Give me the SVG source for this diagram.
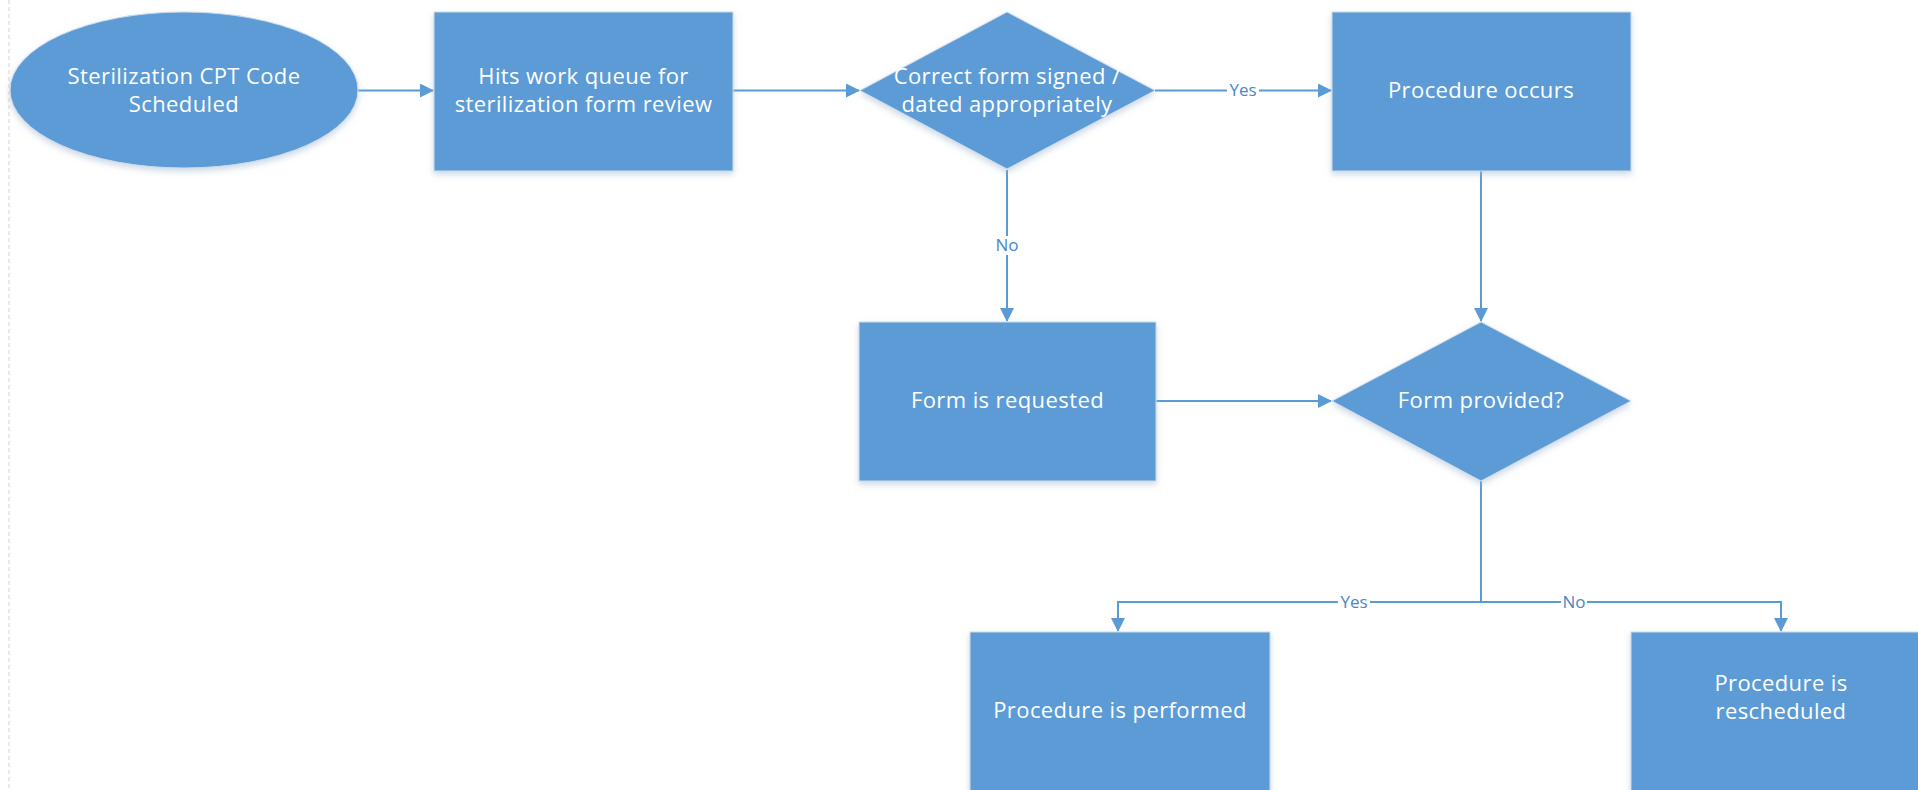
<svg xmlns="http://www.w3.org/2000/svg" width="1918" height="790" viewBox="0 0 1918 790">
<style>
.shape{fill:#5B9BD5;stroke:#d0dbe8;stroke-width:1;filter:url(#sh)}
.t{font-family:"Open Sans","Noto Sans",sans-serif;font-size:22px;letter-spacing:0.4px;fill:#ffffff;text-anchor:middle}
.c{fill:none;stroke:#5B9BD5;stroke-width:2;marker-end:url(#ah)}
.l{font-family:"Open Sans","Noto Sans",sans-serif;font-size:17px;fill:#4A86C5;text-anchor:middle}
.lb{fill:#ffffff}
</style>
<defs>
<marker id="ah" markerWidth="14" markerHeight="14" refX="13" refY="7" orient="auto" markerUnits="userSpaceOnUse">
<path d="M0,0 L14,7 L0,14 Z" fill="#5B9BD5"/>
</marker>
<filter id="sh" x="-10%" y="-10%" width="120%" height="125%">
<feDropShadow dx="0" dy="3" stdDeviation="3" flood-color="#9bb4cf" flood-opacity="0.5"/>
</filter>
</defs>
<rect width="1918" height="790" fill="#ffffff"/>
<line x1="9" y1="0" x2="9" y2="790" stroke="#d4d4d4" stroke-width="1" stroke-dasharray="4,3"/>
<g id="connectors">
<path class="c" d="M358,90.5 L433,90.5"/>
<path class="c" d="M733,90.5 L859,90.5"/>
<path class="c" d="M1155,90.5 L1331,90.5"/>
<path class="c" d="M1007,170 L1007,321"/>
<path class="c" d="M1481,171 L1481,321"/>
<path class="c" d="M1156,401 L1331,401"/>
<path class="c" d="M1481,481 L1481,602 L1118,602 L1118,631"/>
<path class="c" d="M1481,602 L1781,602 L1781,631"/>
<rect class="lb" x="1227" y="82" width="32" height="17"/>
<text class="l" x="1243" y="96">Yes</text>
<rect class="lb" x="994" y="236" width="26" height="19"/>
<text class="l" x="1007" y="251">No</text>
<rect class="lb" x="1338" y="594" width="32" height="17"/>
<text class="l" x="1354" y="608">Yes</text>
<rect class="lb" x="1561" y="594" width="26" height="17"/>
<text class="l" x="1574" y="608">No</text>
</g>
<g id="n1">
<ellipse class="shape" cx="184" cy="90" rx="174" ry="78"/>
<text class="t" x="184" y="84">Sterilization CPT Code</text>
<text class="t" x="184" y="112">Scheduled</text>
</g>
<g id="n2">
<rect class="shape" x="434" y="12" width="299" height="159"/>
<text class="t" x="583.5" y="84">Hits work queue for</text>
<text class="t" x="583.5" y="112">sterilization form review</text>
</g>
<g id="n3">
<polygon class="shape" points="1007,12 1155,90.5 1007,169 860,90.5"/>
<text class="t" x="1007" y="84">Correct form signed /</text>
<text class="t" x="1007" y="112">dated appropriately</text>
</g>
<g id="n4">
<rect class="shape" x="1332" y="12" width="299" height="159"/>
<text class="t" x="1481" y="98">Procedure occurs</text>
</g>
<g id="n5">
<rect class="shape" x="859" y="322" width="297" height="159"/>
<text class="t" x="1007.5" y="408">Form is requested</text>
</g>
<g id="n6">
<polygon class="shape" points="1481,322 1631,401 1481,481 1332,401"/>
<text class="t" x="1481" y="408">Form provided?</text>
</g>
<g id="n7">
<rect class="shape" x="970" y="632" width="300" height="160"/>
<text class="t" x="1120" y="718">Procedure is performed</text>
</g>
<g id="n8">
<rect class="shape" x="1631" y="632" width="300" height="160"/>
<text class="t" x="1781" y="691">Procedure is</text>
<text class="t" x="1781" y="719">rescheduled</text>
</g>
</svg>
